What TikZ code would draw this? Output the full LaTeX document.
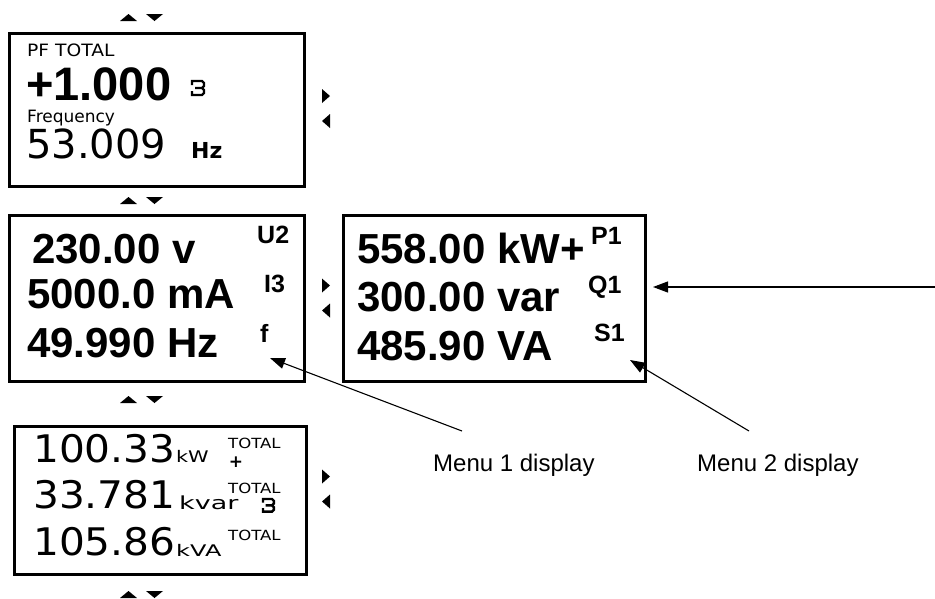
\documentclass[tikz,border=0pt]{standalone}
\usepackage{fontspec}
\usepackage{graphicx}
\setmainfont{Liberation Sans}
\newfontfamily\lcd{DejaVu Sans}
\usetikzlibrary{arrows.meta}
\newcommand\xs[2]{\scalebox{#1}[1]{#2}}
\tikzset{
  screen/.style={draw, line width=2.6pt, inner sep=0pt, anchor=north west},
  txt/.style={inner sep=0pt, anchor=base west},
  big/.style={txt, font=\fontsize{42}{42}\selectfont\bfseries},
  tag/.style={txt, font=\fontsize{25}{25}\selectfont\bfseries},
  lcdbig/.style={txt, font=\lcd\fontsize{38}{38}\selectfont},
  lcdunit/.style={txt, font=\lcd\fontsize{16}{16}\selectfont},
  lcdtiny/.style={txt, font=\lcd\fontsize{14}{14}\selectfont},
  lcdsmall/.style={txt, font=\lcd\fontsize{17}{17}\selectfont},
  caption/.style={txt, font=\fontsize{24}{24}\selectfont},
  pointer/.style={line width=1.1pt, -{Triangle[length=15pt,width=11pt]}},
  navv/.pic={
    \fill (-21.5,3.5) -- (-4.5,3.5) -- (-13,-3.5) -- cycle;
    \fill (4.5,-3.5) -- (21.5,-3.5) -- (13,3.5) -- cycle;
  },
  navh/.pic={
    \fill (-4,-19.5) -- (-4,-5.5) -- (4,-12.5) -- cycle;
    \fill (4,5.5) -- (4,19.5) -- (-4,12.5) -- cycle;
  },
  coil/.pic={
    \draw[line width=2.4pt, line join=miter]
      (0,4) -- (0,0) -- (10,0) -- (12,2) -- (12,5) -- (10,7) -- (3,7)
      (10,7) -- (12,9) -- (12,12) -- (10,14) -- (0,14) -- (0,10);
  },
}
\begin{document}
\begin{tikzpicture}[x=1pt, y=-1pt]
\useasboundingbox (0,0) rectangle (935,598);

% screens
\node[screen, minimum width=295pt, minimum height=153pt] (s1) at (8,32) {};
\node[screen, minimum width=295pt, minimum height=166pt] (s2) at (8,214) {};
\node[screen, minimum width=302pt, minimum height=166pt] (s3) at (342,214) {};
\node[screen, minimum width=292pt, minimum height=148pt] (s4) at (13,425) {};

% navigation triangles
\pic at (141.5,17.5) {navv};
\pic at (141.5,200.5) {navv};
\pic at (141.5,399.5) {navv};
\pic at (141.5,594.5) {navv};
\pic at (326,108.5) {navh};
\pic at (326,298) {navh};
\pic at (326,489) {navh};

% screen 1
\node[lcdsmall] (pf) at (27,56) {\xs{1.1}{PF TOTAL}};
\node[txt, font=\fontsize{47}{47}\selectfont\bfseries] (pfv) at (26,100) {+1.000};
\pic at (192,81) {coil};
\node[lcdsmall] (fq) at (27,122) {Frequency};
\node[lcdbig, font=\lcd\fontsize{40}{40}\selectfont] (fqv) at (26,158) {53.009};
\node[txt, font=\lcd\fontsize{22}{22}\selectfont\bfseries] (hz1) at (191,158) {Hz};

% screen 2
\node[big] (u) at (32,263) {230.00 v};
\node[big] (i) at (27,308) {5000.0 mA};
\node[big] (fr) at (27,357) {49.990 Hz};
\node[tag] (u2) at (257,243) {U2};
\node[tag] (i3) at (264,292) {I3};
\node[tag] (ff) at (260,342) {f};

% screen 3
\node[big] (p) at (357,263) {558.00 kW+};
\node[big] (q) at (357,311) {300.00 var};
\node[big] (sv) at (357,360) {485.90 VA};
\node[tag] (p1) at (591,244) {P1};
\node[tag] (q1) at (588,293) {Q1};
\node[tag] (s1l) at (594,341) {S1};

% screen 4
\node[lcdbig] (pt) at (33,462) {\xs{1.07}{100.33}};
\node[lcdunit] (kw) at (176,462) {\xs{1.3}{kW}};
\node[lcdtiny] (t1) at (228,448) {\xs{1.18}{TOTAL}};
\node[inner sep=0pt, font=\lcd\fontsize{17}{17}\selectfont\bfseries] (plus) at (236,462) {+};
\node[lcdbig] (qt) at (33,508) {\xs{1.07}{33.781}};
\node[lcdunit, font=\lcd\fontsize{18}{18}\selectfont] (kvar) at (179,509) {\xs{1.5}{kvar}};
\node[lcdtiny] (t2) at (228,493) {\xs{1.18}{TOTAL}};
\pic[scale=0.9] at (263,499) {coil};
\node[lcdbig] (st) at (33,555) {\xs{1.07}{105.86}};
\node[lcdunit] (kva) at (176,556) {\xs{1.5}{kVA}};
\node[lcdtiny] (t3) at (228,540) {\xs{1.18}{TOTAL}};

% captions and pointers
\node[caption] (m1) at (433,471) {Menu 1 display};
\node[caption] (m2) at (697,471) {Menu 2 display};
\coordinate (m1end) at (462,431);
\coordinate (m2end) at (749,431);
\coordinate (tip1) at (270,358);
\coordinate (tip2) at (630,360);
\coordinate (rin) at (935,287);
\coordinate (tip3) at (653,287);
\draw[pointer] (m1end) -- (tip1);
\draw[pointer] (m2end) -- (tip2);
\draw[pointer] (rin) -- (tip3);
\end{tikzpicture}
\end{document}
